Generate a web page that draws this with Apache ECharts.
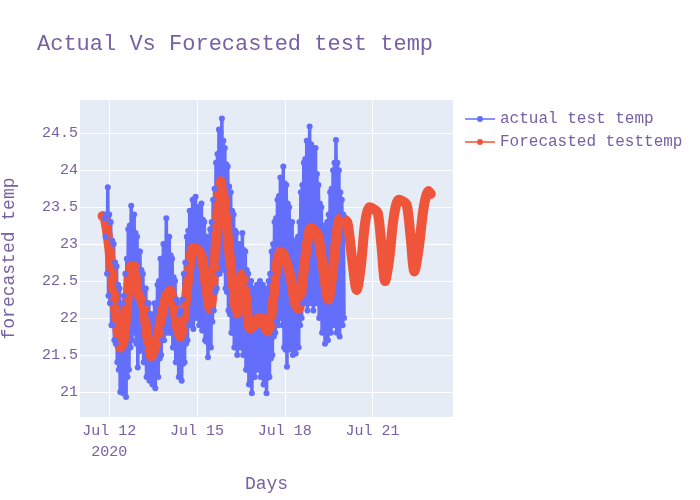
<!DOCTYPE html>
<html>
<head>
<meta charset="utf-8">
<script src="https://cdn.jsdelivr.net/npm/echarts@6/dist/echarts.min.js"></script>
<style>
  html, body { margin: 0; padding: 0; background: #fff; }
  #chart { width: 700px; height: 500px; }
</style>
</head>
<body>
<div id="chart"></div>
<script>
// x values are days of July 2020 (12 = Jul 12 00:00)
let actualStart = 11.85;
let actualStep = 0.025;
// actual test temp (dense noisy band, high/low alternating)
let actualTemp = [
    23.35, 23.1, 23.4, 22.6,   23.77, 22.3, 23.4, 22.2,   23.3, 21.9, 23.05, 21.9,
    23.0, 21.7, 22.75, 21.65,  22.7, 21.4, 22.45, 21.3,   22.4, 21.0, 22.2, 21.1,
    22.2, 20.98, 22.3, 21.05,  22.6, 20.93, 22.8, 21.2,   23.2, 21.3, 23.25, 21.6,
    23.52, 21.7, 23.35, 21.85, 23.4, 21.8, 23.15, 21.65,  23.1, 21.33, 22.9, 21.55,
    22.9, 21.6, 22.65, 21.6,   22.6, 21.4, 22.4, 21.4,    22.4, 21.2, 22.2, 21.28,
    22.2, 21.15, 22.05, 21.22, 22.05, 21.1, 22.0, 21.18,  22.2, 21.05, 22.2, 21.22,
    22.45, 21.2, 22.5, 21.45,  22.8, 21.5, 22.8, 21.7,    23.0, 21.7, 23.0, 21.85,
    23.35, 21.8, 23.1, 21.9,   23.1, 21.8, 22.85, 21.8,   22.8, 21.6, 22.55, 21.6,
    22.5, 21.4, 22.25, 21.4,   22.2, 21.2, 22.05, 21.28,  22.1, 21.15, 22.25, 21.38,
    22.6, 21.4, 22.75, 21.65,  23.1, 21.7, 23.18, 21.9,   23.45, 21.9, 23.42, 21.98,
    23.6, 21.85, 23.52, 22.02, 23.64, 22.0, 23.47, 22.05, 23.5, 21.9, 23.42, 21.96,
    23.55, 21.83, 23.33, 21.86, 23.3, 21.7, 23.1, 21.68, 23.1, 21.47, 23.05, 21.63,
    23.2, 21.6, 23.3, 21.95,   23.6, 22.1, 23.75, 22.35,  24.1, 22.4, 24.22, 22.6,
    24.55, 22.6, 24.52, 22.75, 24.7, 22.7, 24.4, 22.65,   24.3, 22.4, 24.08, 22.35,
    24.05, 22.1, 23.78, 22.05, 23.7, 21.8, 23.45, 21.8,   23.4, 21.6, 23.18, 21.65,
    23.15, 21.5, 22.98, 21.65, 23.0, 21.6, 22.98, 21.65,  23.15, 21.5, 22.92, 21.5,
    22.9, 21.3, 22.65, 21.3,   22.6, 21.1, 22.45, 21.14,  22.5, 20.98, 22.35, 21.2,
    22.4, 21.2, 22.33, 21.35,  22.45, 21.3, 22.38, 21.35, 22.5, 21.2, 22.38, 21.25,
    22.45, 21.1, 22.32, 21.14, 22.4, 20.98, 22.35, 21.19, 22.5, 21.2, 22.6, 21.45,
    22.9, 21.5, 23.0, 21.75,   23.3, 21.8, 23.35, 21.95,  23.6, 21.9, 23.65, 22.05,
    23.9, 22.0, 23.88, 21.9,   24.05, 21.6, 23.82, 21.57, 23.8, 21.34, 23.55, 21.57,
    23.5, 21.6, 23.3, 21.65,   23.3, 21.5, 23.05, 21.61,  23.0, 21.52, 22.95, 21.66,
    23.1, 21.6, 23.3, 21.9,    23.7, 22.0, 23.8, 22.2,    24.1, 22.2, 24.15, 22.25,
    24.4, 22.1, 24.4, 22.25,   24.59, 22.2, 24.35, 22.25, 24.3, 22.1, 24.2, 22.25,
    24.3, 22.2, 23.95, 22.2,   23.8, 22.0, 23.55, 22.0,   23.5, 21.8, 23.25, 21.82,
    23.2, 21.65, 23.15, 21.78, 23.3, 21.7, 23.4, 21.85,   23.7, 21.8, 23.75, 21.95,
    24.0, 21.9, 24.1, 21.95,   24.41, 21.8, 24.1, 21.88,  24.0, 21.75, 23.7, 21.92,
    23.6, 21.9, 23.4, 22.0
];
// Forecasted testtemp
let forecastDays = [
    11.77, 11.85, 12.00, 12.15, 12.28, 12.38, 12.50, 12.62, 12.75, 12.85,
    12.95, 13.05, 13.15, 13.30, 13.45, 13.60, 13.80, 13.95, 14.08, 14.20,
    14.33, 14.43, 14.55, 14.72, 14.87, 15.00, 15.16, 15.30, 15.45, 15.58,
    15.70, 15.81, 15.95, 16.10, 16.25, 16.36, 16.47, 16.56, 16.65, 16.81,
    16.95, 17.10, 17.20, 17.32, 17.44, 17.58, 17.72, 17.85, 17.97, 18.10,
    18.20, 18.35, 18.47, 18.62, 18.78, 18.89, 19.05, 19.15, 19.30, 19.49,
    19.63, 19.78, 19.89, 20.05, 20.15, 20.30, 20.46, 20.60, 20.75, 20.90,
    21.05, 21.18, 21.30, 21.43, 21.57, 21.72, 21.89, 22.03, 22.17, 22.30,
    22.43, 22.58, 22.75, 22.91, 22.99
];
let forecastTemp = [
    23.38, 23.35, 22.95, 22.35, 21.85, 21.6, 21.7, 22.25, 22.7, 22.7,
    22.4, 22.27, 22.2, 21.75, 21.48, 21.65, 22.05, 22.3, 22.37, 22.2,
    21.85, 21.75, 22.0, 22.6, 22.95, 22.93, 22.83, 22.45, 22.12, 22.6,
    23.4, 23.85, 23.55, 22.9, 22.35, 22.06, 22.3, 22.6, 22.4, 21.86,
    21.9, 22.0, 22.0, 21.88, 21.82, 22.15, 22.7, 22.9, 22.85, 22.7,
    22.55, 22.2, 22.12, 22.55, 23.05, 23.22, 23.17, 23.1, 22.7, 22.25,
    22.6, 23.15, 23.35, 23.33, 23.28, 22.8, 22.38, 22.7, 23.3, 23.5,
    23.47, 23.42, 23.0, 22.5, 22.8, 23.35, 23.6, 23.58, 23.53, 23.1,
    22.63, 22.95, 23.5, 23.72, 23.68
];
let xTicks = [12, 15, 18, 21];
let xTickLabels = ['Jul 12\n2020', 'Jul 15', 'Jul 18', 'Jul 21'];
let yTicks = [21, 21.5, 22, 22.5, 23, 23.5, 24, 24.5];

let actualData = [];
for (let i = 0; i < actualTemp.length; i++) {
    actualData.push([actualStart + i * actualStep, actualTemp[i]]);
}
let forecastData = [];
for (let i = 0; i < forecastDays.length; i++) {
    forecastData.push([forecastDays[i], forecastTemp[i]]);
}

let fontFam = '"Courier New", "Liberation Mono", monospace';
let fontCol = '#7661a3';
// legend icon: line with a dot in the middle
let lineDot = 'path://M0,4 L40,4 L40,6 L0,6 Z M20,1 A4,4 0 1 1 19.99,1 Z';

let option = {
    backgroundColor: '#fff',
    animation: false,
    title: {
        text: 'Actual Vs Forecasted test temp',
        left: 32,
        top: 28,
        textStyle: {fontFamily: fontFam, fontSize: 22, fontWeight: 'normal', color: fontCol}
    },
    legend: {
        orient: 'vertical',
        left: 460,
        top: 106,
        itemGap: 7,
        itemWidth: 30,
        itemHeight: 8,
        textStyle: {fontFamily: fontFam, fontSize: 16, color: fontCol},
        data: [
            {name: 'actual test temp', icon: lineDot, itemStyle: {color: '#636efa', borderWidth: 0}},
            {name: 'Forecasted testtemp', icon: lineDot, itemStyle: {color: '#ef553b', borderWidth: 0}}
        ]
    },
    grid: {
        left: 80,
        top: 100,
        width: 373,
        height: 317,
        containLabel: false,
        outerBoundsMode: 'none',
        show: true,
        backgroundColor: '#E5ECF6',
        borderWidth: 0
    },
    xAxis: {
        type: 'value',
        min: 11.0,
        max: 23.75,
        name: 'Days',
        nameLocation: 'middle',
        nameGap: 58,
        nameTextStyle: {fontFamily: fontFam, fontSize: 18, color: fontCol},
        axisLine: {show: false},
        axisTick: {show: false, customValues: xTicks},
        splitLine: {show: true, lineStyle: {color: '#fff', width: 1}},
        axisLabel: {
            customValues: xTicks,
            fontFamily: fontFam,
            fontSize: 15,
            color: fontCol,
            margin: 4,
            lineHeight: 21,
            formatter: function (v) {
                let idx = xTicks.indexOf(v);
                return idx >= 0 ? xTickLabels[idx] : '';
            }
        }
    },
    yAxis: {
        type: 'value',
        min: 20.66,
        max: 24.95,
        name: 'forecasted temp',
        nameLocation: 'middle',
        nameGap: 62,
        nameTextStyle: {fontFamily: fontFam, fontSize: 18, color: fontCol},
        axisLine: {show: false},
        axisTick: {show: false, customValues: yTicks},
        splitLine: {show: true, lineStyle: {color: '#fff', width: 1}},
        axisLabel: {
            customValues: yTicks,
            fontFamily: fontFam,
            fontSize: 15,
            color: fontCol,
            margin: 2,
            formatter: function (v) { return String(v); }
        }
    },
    series: [
        {
            name: 'actual test temp',
            type: 'line',
            data: actualData,
            color: '#636efa',
            symbol: 'circle',
            symbolSize: 6,
            showAllSymbol: true,
            sampling: null,
            lineStyle: {width: 3.5, color: '#636efa', join: 'round'},
            itemStyle: {color: '#636efa', borderWidth: 0, borderColor: '#636efa'}
        },
        {
            name: 'Forecasted testtemp',
            type: 'line',
            data: forecastData,
            color: '#ef553b',
            smooth: 0.3,
            showSymbol: false,
            lineStyle: {width: 10, color: '#ef553b', cap: 'round', join: 'round'},
            itemStyle: {color: '#ef553b', borderWidth: 0}
        }
    ]
};

let myChart = echarts.init(document.getElementById('chart'));
myChart.setOption(option);
</script>
</body>
</html>
